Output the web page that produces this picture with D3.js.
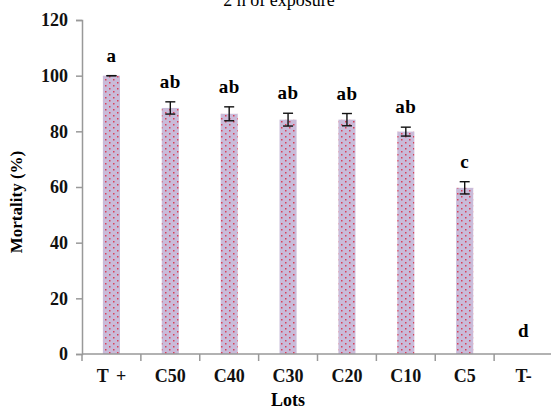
<!DOCTYPE html>
<html>
<head>
<meta charset="utf-8">
<script src="https://cdn.jsdelivr.net/npm/d3@7"></script>
<style>
  body { margin: 0; background: #fff; }
  text { font-family: "Liberation Serif", "Times New Roman", serif; }
</style>
</head>
<body>
<svg id="chart" width="551" height="410"></svg>
<script>
// data
const lots = ['T +', 'C50', 'C40', 'C30', 'C20', 'C10', 'C5', 'T-'];
const mortality = [100, 88.4, 86.3, 84.2, 84.2, 79.9, 59.7, 0];
const errors = [0, 2.2, 2.5, 2.3, 2.2, 1.6, 2.2, 0];
const letters = ['a', 'ab', 'ab', 'ab', 'ab', 'ab', 'c', 'd'];
const yTicks = [0, 20, 40, 60, 80, 100, 120];

const svg = d3.select('#chart');
const margin = {left: 82, right: -2, top: 20, bottom: 56};
const W = 551, H = 410;

const x = d3.scaleBand()
    .domain(lots)
    .range([margin.left, W - margin.right])
    .paddingInner(0.71)
    .paddingOuter(0.355);

const xb = d3.scaleBand().domain(lots).range([margin.left, W - margin.right]);

const y = d3.scaleLinear()
    .domain([0, 120])
    .range([H - margin.bottom, margin.top]);

// dotted pattern fill
const defs = svg.append('defs');
const pat = defs.append('pattern')
    .attr('id', 'dots')
    .attr('patternUnits', 'userSpaceOnUse')
    .attr('width', 8).attr('height', 6);
pat.append('rect').attr('width', 8).attr('height', 6).attr('fill', '#c9bbd9');
pat.append('rect').attr('x', 1).attr('y', 1).attr('width', 1.5).attr('height', 1.5).attr('fill', '#d8405a');
pat.append('rect').attr('x', 5).attr('y', 4).attr('width', 1.5).attr('height', 1.5).attr('fill', '#d8405a');

// title (cut off at top, as in the source figure)
svg.append('text')
    .attr('x', 279).attr('y', 6)
    .attr('text-anchor', 'middle')
    .attr('font-size', 18)
    .text('2 h of exposure');

// bars
svg.selectAll('rect.bar')
    .data(lots)
    .join('rect')
    .attr('class', 'bar')
    .attr('x', d => x(d))
    .attr('width', x.bandwidth())
    .attr('y', (d, i) => y(mortality[i]))
    .attr('height', (d, i) => y(0) - y(mortality[i]))
    .attr('fill', 'url(#dots)');

// error bars
const eb = svg.append('g').attr('stroke', '#111').attr('stroke-width', 1.4);
lots.forEach((d, i) => {
    if (mortality[i] === 0) return;
    const cx = x(d) + x.bandwidth() / 2;
    const top = y(mortality[i] + errors[i]), bot = y(mortality[i] - errors[i]);
    eb.append('line').attr('x1', cx).attr('x2', cx).attr('y1', top).attr('y2', bot);
    eb.append('line').attr('x1', cx - 5).attr('x2', cx + 5).attr('y1', top).attr('y2', top);
    eb.append('line').attr('x1', cx - 5).attr('x2', cx + 5).attr('y1', bot).attr('y2', bot);
});

// significance letters
svg.selectAll('text.sig')
    .data(lots)
    .join('text')
    .attr('class', 'sig')
    .attr('x', d => x(d) + x.bandwidth() / 2)
    .attr('y', (d, i) => y(mortality[i] + errors[i]) - (mortality[i] === 0 ? 17 : 14))
    .attr('text-anchor', 'middle')
    .attr('font-size', 19)
    .attr('font-weight', 'bold')
    .attr('letter-spacing', 0.5)
    .text((d, i) => letters[i]);

// y axis
const yAxis = svg.append('g')
    .attr('transform', `translate(${margin.left},0)`)
    .call(d3.axisLeft(y).tickValues(yTicks).tickSize(6).tickPadding(8));
yAxis.selectAll('text').attr('font-size', 18).attr('font-weight', 'bold').attr('fill', '#111')
    .attr('font-family', '"Liberation Serif", serif');
yAxis.select('.domain').attr('stroke', '#999').attr('stroke-width', 1.5);
yAxis.selectAll('.tick line').attr('stroke', '#999').attr('stroke-width', 1.5);

// x axis with ticks at band edges
const xAxis = svg.append('g')
    .attr('transform', `translate(0,${y(0)})`);
xAxis.append('line')
    .attr('x1', margin.left).attr('x2', W)
    .attr('stroke', '#999').attr('stroke-width', 1.5);
xAxis.selectAll('line.tk')
    .data(lots)
    .join('line')
    .attr('class', 'tk')
    .attr('x1', d => xb(d)).attr('x2', d => xb(d))
    .attr('y1', 0).attr('y2', 7)
    .attr('stroke', '#999').attr('stroke-width', 1.5);
xAxis.selectAll('text')
    .data(lots)
    .join('text')
    .attr('x', d => x(d) + x.bandwidth() / 2)
    .attr('y', 28)
    .attr('text-anchor', 'middle')
    .attr('font-size', 18)
    .attr('font-weight', 'bold')
    .attr('fill', '#111')
    .attr('word-spacing', 3)
    .text(d => d);

// axis titles
svg.append('text')
    .attr('x', 288).attr('y', 406)
    .attr('text-anchor', 'middle')
    .attr('font-size', 18)
    .attr('font-weight', 'bold')
    .text('Lots');

svg.append('text')
    .attr('transform', 'translate(22,202) rotate(-90)')
    .attr('text-anchor', 'middle')
    .attr('font-size', 17)
    .attr('font-weight', 'bold')
    .text('Mortality (%)');
</script>
</body>
</html>
